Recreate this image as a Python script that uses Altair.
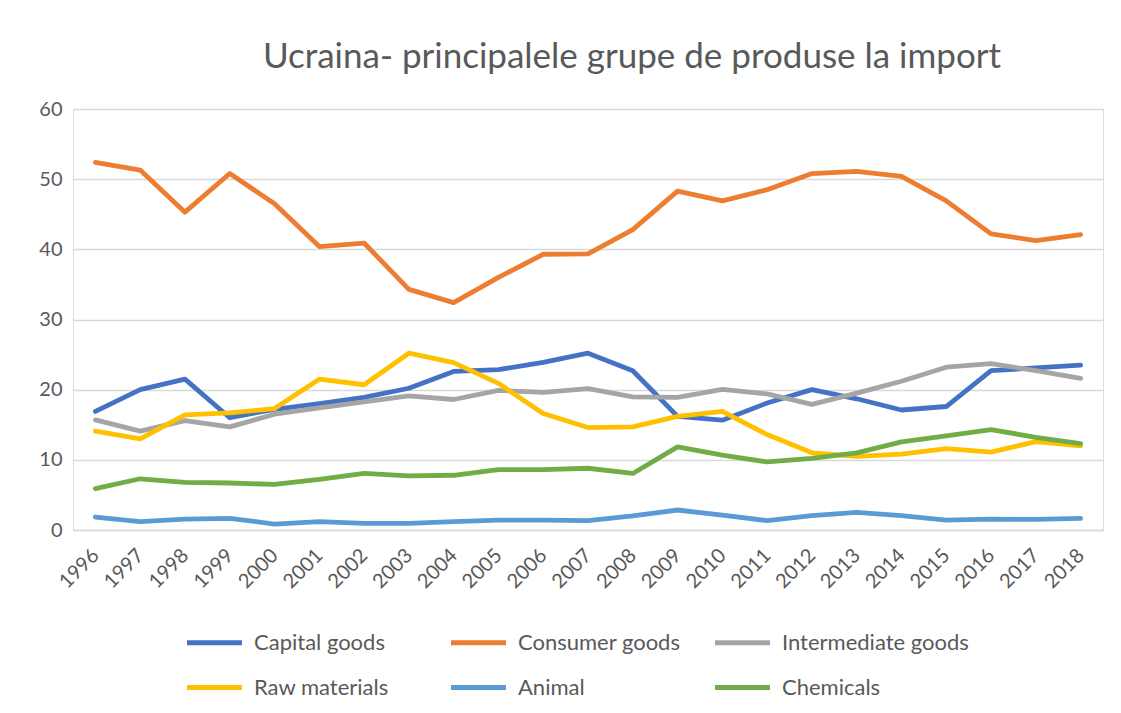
import altair as alt
import pandas as pd

years = [str(y) for y in range(1996, 2019)]

series_names = ["Capital goods", "Consumer goods", "Intermediate goods",
                "Raw materials", "Animal", "Chemicals"]
series_colors = ["#4472C4", "#ED7D31", "#A5A5A5", "#FFC000", "#5B9BD5", "#70AD47"]

capital = [16.9, 20.0, 21.5, 16.0, 17.2, 18.0, 18.9, 20.2, 22.6, 22.85, 23.9, 25.2,
           22.7, 16.2, 15.65, 18.1, 20.0, 18.7, 17.1, 17.6, 22.7, 23.1, 23.5]
consumer = [52.4, 51.3, 45.3, 50.8, 46.5, 40.4, 40.9, 34.3, 32.4, 36.0, 39.3, 39.35,
            42.8, 48.3, 46.9, 48.5, 50.8, 51.1, 50.4, 46.9, 42.2, 41.25, 42.1]
intermediate = [15.7, 14.1, 15.6, 14.7, 16.5, 17.4, 18.25, 19.1, 18.6, 19.9, 19.6, 20.15,
                18.97, 18.9, 20.05, 19.4, 17.9, 19.5, 21.2, 23.2, 23.7, 22.7, 21.6]
raw = [14.1, 13.0, 16.4, 16.7, 17.3, 21.5, 20.7, 25.2, 23.85, 20.9, 16.6, 14.6,
       14.7, 16.2, 16.9, 13.6, 11.0, 10.5, 10.8, 11.6, 11.1, 12.6, 12.0]
animal = [1.85, 1.2, 1.56, 1.66, 0.85, 1.2, 0.95, 0.95, 1.2, 1.4, 1.42, 1.33,
          2.0, 2.85, 2.13, 1.33, 2.04, 2.5, 2.04, 1.42, 1.56, 1.5, 1.66]
chemicals = [5.9, 7.3, 6.8, 6.7, 6.5, 7.2, 8.06, 7.7, 7.8, 8.6, 8.6, 8.8,
             8.06, 11.85, 10.67, 9.7, 10.2, 11.0, 12.56, 13.4, 14.3, 13.2, 12.3]

all_values = [capital, consumer, intermediate, raw, animal, chemicals]

rows = []
for name, vals in zip(series_names, all_values):
    for yr, v in zip(years, vals):
        rows.append({"year": yr, "series": name, "value": v})
df = pd.DataFrame(rows)

font = "Lato"
text_color = "#595959"
grid_color = "#D9D9D9"

chart = alt.Chart(df).mark_line(
    strokeWidth=4.8, strokeCap="round", strokeJoin="round"
).encode(
    x=alt.X("year:O", sort=years, scale=alt.Scale(padding=0.5),
            axis=alt.Axis(title=None, labelAngle=-45, labelAlign="right",
                          labelBaseline="middle", labelFontSize=20,
                          labelColor=text_color, labelFont=font,
                          ticks=False, domain=True, domainColor=grid_color,
                          domainWidth=1.5, labelPadding=22, grid=False)),
    y=alt.Y("value:Q", scale=alt.Scale(domain=[0, 60], nice=False),
            axis=alt.Axis(title=None, values=[0, 10, 20, 30, 40, 50, 60],
                          labelFontSize=20, labelColor=text_color, labelFont=font,
                          ticks=False, domain=False, gridColor=grid_color,
                          gridWidth=1.5, labelPadding=11)),
    color=alt.Color("series:N",
                    scale=alt.Scale(domain=series_names, range=series_colors),
                    legend=alt.Legend(title=None, orient="none",
                                      legendX=128, legendY=520,
                                      direction="horizontal",
                                      columns=3, gridAlign="all",
                                      symbolType="M-2.5,0L2.5,0",
                                      symbolStrokeWidth=5, symbolSize=484,
                                      labelFontSize=22, labelColor=text_color,
                                      labelFont=font, labelOffset=26,
                                      labelLimit=400, padding=0,
                                      columnPadding=0, rowPadding=20)),
).properties(
    width=1030,
    height=421,
    title=alt.TitleParams(
        "Ucraina- principalele grupe de produse la import",
        fontSize=35, font=font, fontWeight="normal", color=text_color,
        anchor="middle", dx=44, offset=24,
    ),
    autosize=alt.AutoSizeParams(type="none"),
    padding={"left": 65, "top": 101, "right": 10, "bottom": 175},
).configure_view(stroke=None).configure(background="white")

chart.save("out.html", embed_options={"renderer": "svg", "actions": False})
